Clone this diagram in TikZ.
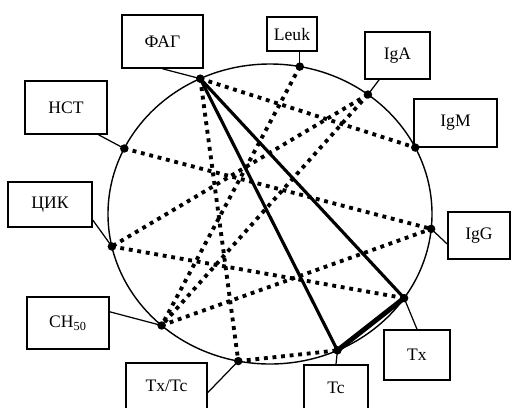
\documentclass[tikz,border=0pt]{standalone}
\usepackage{fontspec}
\setmainfont{Liberation Serif}

\begin{document}
\begin{tikzpicture}[x=0.02cm, y=-0.02cm]

% Define styles
\tikzstyle{box}=[draw, line width=0.9pt, inner sep=0pt, font=\fontsize{10}{12}\selectfont]
\tikzstyle{dotline}=[line width=2.2pt, dash pattern=on 2.2pt off 2.7pt]
\tikzstyle{heavy}=[line width=1.8pt]
\tikzstyle{leader}=[line width=0.7pt]

% Parameters
\def\u{0.02cm}
\def\knot{2.4pt}

\useasboundingbox (0,0) rectangle (511,407);

% Circle
\coordinate (O) at (270,214);
\draw[line width=0.8pt] (O) ellipse [x radius=162*\u, y radius=150*\u];

% Points on the circle (angle counted upwards)
\foreach \n/\t in {FAG/115.5, Leuk/79.4, IgA/52.8, IgM/26.3, IgG/-5.7,
  Tx/-34.1, Tc/-65.4, TxTc/-101.3, CH/-132, CIK/-167.5, HCT/154.1}
  \path (O) ++(-\t:162 and 150) coordinate (\n);

% Dotted links
\foreach \a/\b in {FAG/IgM, FAG/TxTc, Leuk/CH, IgA/CIK, IgA/CH, HCT/IgG, CIK/Tx, CH/IgG, TxTc/Tc}
  \draw[dotline] (\a) -- (\b);

% Solid links
\draw[heavy] (FAG) -- (Tc);
\draw[heavy] (FAG) -- (Tx);
\draw[heavy, line width=2.8pt] (Tx) -- (Tc);

% Junction dots
\foreach \n in {FAG, Leuk, IgA, IgM, IgG, Tx, Tc, TxTc, CH, CIK, HCT}
  \fill (\n) circle (\knot);

% Boxes
\node[box, minimum width=81*\u, minimum height=53*\u] (bFAG) at (162.5,41.5) {ФАГ};
\node[box, minimum width=50*\u, minimum height=34*\u] (bLeuk) at (292,34) {Leuk};
\node[box, minimum width=65*\u, minimum height=47*\u] (bIgA) at (397.5,55.5) {IgA};
\node[box, minimum width=83*\u, minimum height=48*\u] (bIgM) at (455.5,123) {IgM};
\node[box, minimum width=62*\u, minimum height=47*\u] (bIgG) at (479,235.5) {IgG};
\node[box, minimum width=66*\u, minimum height=50*\u] (bTx) at (417,355) {Tx};
\node[box, minimum width=64*\u, minimum height=46*\u] (bTc) at (336,388) {Tc};
\node[box, minimum width=81*\u, minimum height=46*\u] (bTxTc) at (166.5,386) {Tx/Tc};
\node[box, minimum width=82*\u, minimum height=52*\u] (bCH) at (68,323) {CH\textsubscript{50}};
\node[box, minimum width=84*\u, minimum height=45*\u] (bCIK) at (50,204.5) {ЦИК};
\node[box, minimum width=82*\u, minimum height=53*\u] (bHCT) at (66,107.5) {НСТ};

% Leaders from boxes to points
\draw[leader] (bFAG.south) -- (FAG);
\draw[leader] (bLeuk.south -| Leuk) -- (Leuk);
\draw[leader] (bIgA) -- (IgA);
\draw[leader] (bIgG.195) -- (IgG);
\draw[leader] (bTx.north) -- (Tx);
\draw[leader] (bTc.north) -- (Tc);
\draw[leader] (bTxTc.-9) -- (TxTc);
\draw[leader] (bCH.15) -- (CH);
\draw[leader] (bCIK.-20) -- (CIK);
\draw[leader] (bHCT.-40) -- (HCT);

\end{tikzpicture}
\end{document}
